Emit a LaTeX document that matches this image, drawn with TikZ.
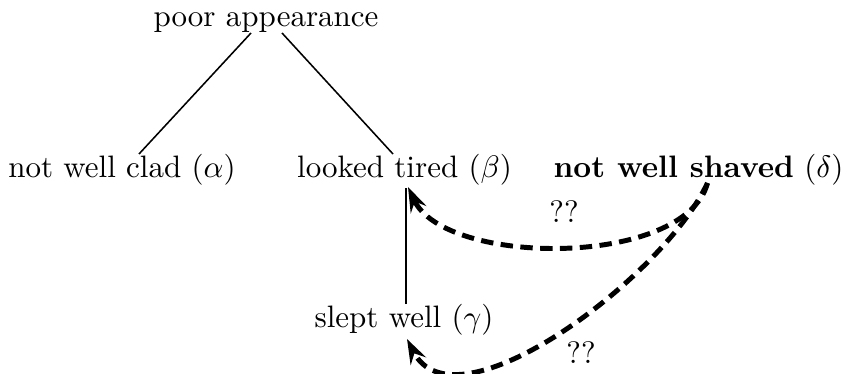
\documentclass[tikz,border=0pt]{standalone}
\usetikzlibrary{calc,arrows.meta}
\begin{document}
\begin{tikzpicture}[x=0.3226pt,y=0.3226pt,
  lbl/.style={anchor=base, inner sep=0pt},
  tree/.style={line width=0.5pt},
  guess/.style={line width=1.6pt, dash pattern=on 4pt off 2.4pt, -{Stealth[length=8pt,width=5.5pt,inset=2.8pt]}}]
\useasboundingbox (0,0) rectangle (854,-374);
\node[lbl] (pa) at (266,-27) {poor appearance};
\node[lbl] (alpha) at (122,-178) {not well clad ($\alpha$)};
\node[lbl] (beta) at (404.5,-178) {looked tired ($\beta$)};
\node[lbl] (delta) at (698.5,-178) {\textbf{not well shaved} ($\delta$)};
\node[lbl] (gamma) at (404,-327) {slept well ($\gamma$)};
\node (q1) at (564,-212) {??};
\node (q2) at (581,-352.5) {??};
\draw[tree] ($(pa.base)+(-15,-6)$) -- ($(alpha.base)+(17,24)$);
\draw[tree] ($(pa.base)+(16,-6)$) -- ($(beta.base)+(-11.5,24)$);
\draw[tree] ($(gamma.base)+(2,23)$) -- ($(beta.base)+(1.5,-10)$);
\draw[guess] ($(delta.base)+(9,-5)$) to[out=-105,in=-65,looseness=0.75] ($(beta.base)+(3.5,-9)$);
\draw[guess] ($(delta.base)+(9,-5)$) to[out=-115,in=-63,looseness=0.8] ($(gamma.base)+(3,-12)$);
\end{tikzpicture}
\end{document}
